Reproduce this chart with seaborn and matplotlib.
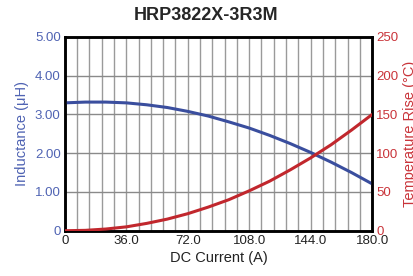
import numpy as np
import pandas as pd
import matplotlib
matplotlib.use("Agg")
import matplotlib.pyplot as plt
import seaborn as sns

# values
current = [0, 12, 24, 36, 48, 60, 72, 84, 96, 108, 120, 132, 144, 156, 168, 180]
inductance = [3.30, 3.32, 3.32, 3.30, 3.25, 3.18, 3.08, 2.96, 2.81, 2.65, 2.46, 2.25, 2.02, 1.77, 1.50, 1.21]
temp_rise = [0, 0.5, 2.2, 5, 9.5, 15, 22, 30.5, 40, 51.5, 64, 78.5, 94, 111, 130, 150]
xticks = [0, 36, 72, 108, 144, 180]
xticklabels = ["0", "36.0", "72.0", "108.0", "144.0", "180.0"]
lticks = [0, 1, 2, 3, 4, 5]
lticklabels = ["0", "1.00", "2.00", "3.00", "4.00", "5.00"]
rticks = [0, 50, 100, 150, 200, 250]

df = pd.DataFrame({"I": current, "L": inductance, "T": temp_rise})

sns.set_style("white")
plt.rcParams["font.family"] = ["Liberation Sans Narrow", "Liberation Sans", "DejaVu Sans"]

blue = "#3a4e9e"
red = "#c1272d"
blue_txt = "#4f63b3"
red_txt = "#c9343a"

fig = plt.figure(figsize=(4.13, 2.76), dpi=100)
ax = fig.add_axes([0.157, 0.164, 0.744, 0.702])

# grid
for x in np.arange(0, 180.1, 7.2):
    ax.axvline(x, color="#9a9a9a", lw=1.0, zorder=0)
for y in lticks:
    ax.axhline(y, color="#8a8a8a", lw=1.0, zorder=0)

sns.lineplot(data=df, x="I", y="L", ax=ax, color=blue, lw=2.2, zorder=3)
ax.set_xlim(0, 180)
ax.set_ylim(0, 5)
ax.set_xticks(xticks)
ax.set_xticklabels(xticklabels)
ax.set_yticks(lticks)
ax.set_yticklabels(lticklabels)
ax.tick_params(axis="both", length=0, labelsize=9.5, pad=3)
ax.tick_params(axis="y", colors=blue_txt)
ax.tick_params(axis="x", colors="#222222")
ax.set_xlabel("DC Current (A)", fontsize=10.5, color="#222222", labelpad=3)
ax.set_ylabel("Inductance (\u03bcH)", fontsize=10.5, color=blue_txt, labelpad=4)

ax2 = ax.twinx()
sns.lineplot(data=df, x="I", y="T", ax=ax2, color=red, lw=2.2, zorder=3)
ax2.set_ylim(0, 250)
ax2.set_yticks(rticks)
ax2.tick_params(axis="y", length=0, labelsize=9.5, colors=red_txt, pad=3)
ax2.set_ylabel("Temperature Rise (\u00b0C)", fontsize=10.5, color=red_txt, labelpad=3)

for a in (ax, ax2):
    for s in a.spines.values():
        s.set_color("black")
        s.set_linewidth(1.8)

fig.suptitle("HRP3822X-3R3M", x=0.5, y=0.975, fontsize=13, fontweight="bold",
             family=["Liberation Sans", "DejaVu Sans"])

fig.savefig("out.png", dpi=100)
